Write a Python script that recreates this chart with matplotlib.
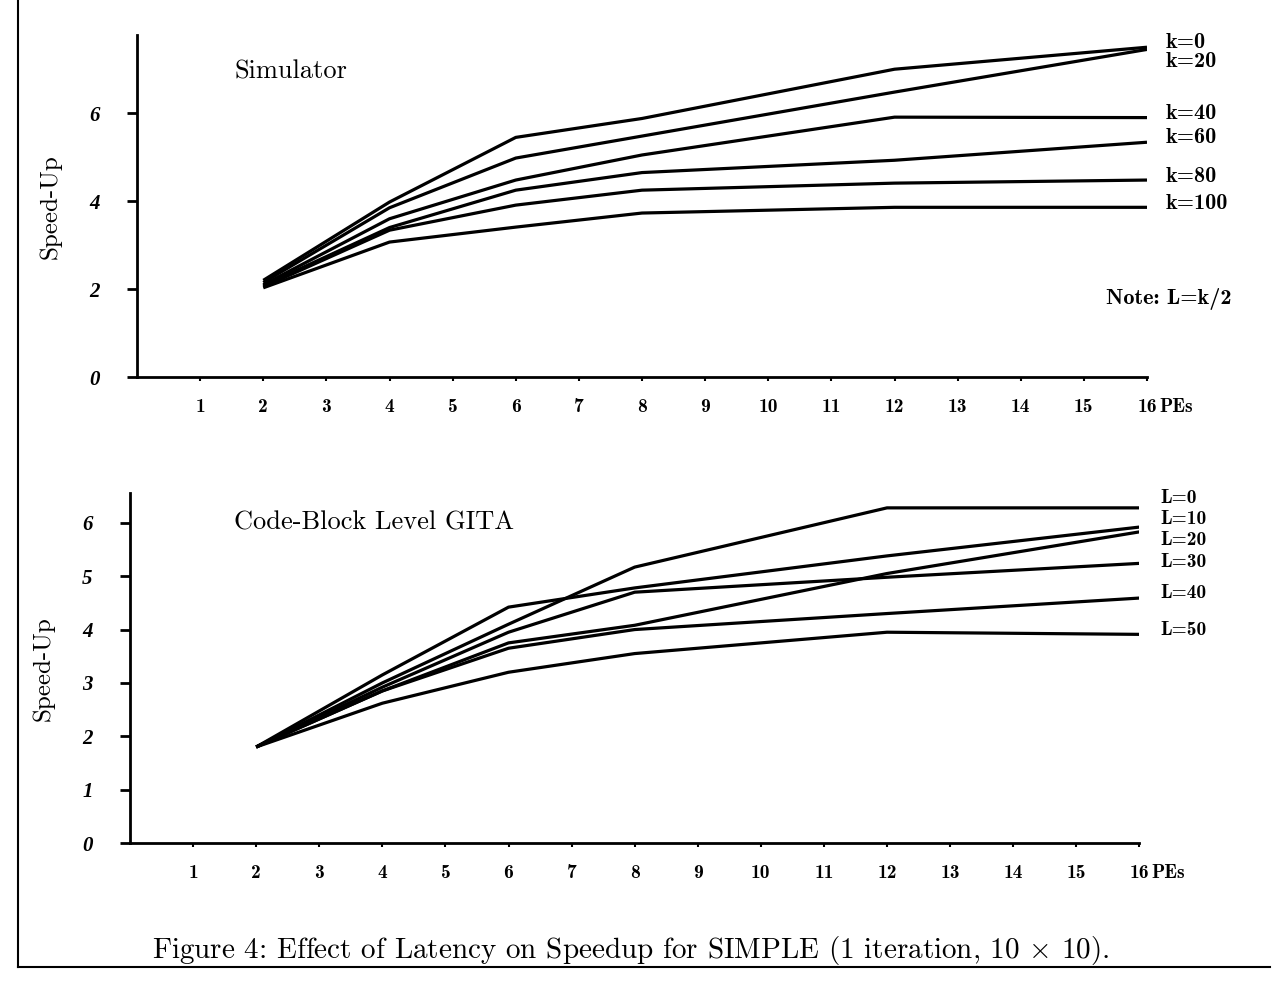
import matplotlib.pyplot as plt
from matplotlib.lines import Line2D

plt.rcParams['mathtext.fontset'] = 'cm'

# PEs at which speed-up was measured
pes = [2, 4, 6, 8, 12, 16]

# Simulator (top panel), one list per latency k
sim_k0 = [2.20, 3.98, 5.45, 5.88, 7.00, 7.50]
sim_k20 = [2.15, 3.85, 4.98, 5.48, 6.48, 7.45]
sim_k40 = [2.10, 3.60, 4.48, 5.05, 5.91, 5.90]
sim_k60 = [2.08, 3.40, 4.25, 4.65, 4.93, 5.34]
sim_k80 = [2.05, 3.34, 3.91, 4.25, 4.41, 4.48]
sim_k100 = [2.03, 3.07, 3.41, 3.73, 3.86, 3.86]
sim_names = ["k=0", "k=20", "k=40", "k=60", "k=80", "k=100"]
sim_label_y = [7.61, 7.18, 6.00, 5.45, 4.57, 3.95]

# Code-Block Level GITA (bottom panel), one list per latency L
gita_l0 = [1.80, 3.00, 4.10, 5.17, 6.28, 6.28]
gita_l10 = [1.80, 3.15, 4.42, 4.78, 5.38, 5.92]
gita_l20 = [1.80, 2.85, 3.75, 4.08, 5.05, 5.83]
gita_l30 = [1.80, 2.92, 3.95, 4.70, 4.98, 5.24]
gita_l40 = [1.80, 2.85, 3.65, 4.00, 4.30, 4.59]
gita_l50 = [1.80, 2.62, 3.20, 3.55, 3.95, 3.91]
gita_names = ["L=0", "L=10", "L=20", "L=30", "L=40", "L=50"]
gita_label_y = [6.46, 6.07, 5.68, 5.27, 4.68, 3.99]

x_ticks = list(range(1, 17))
x_ticklabels = [str(i) for i in range(1, 17)]

fig = plt.figure(figsize=(12.76, 9.82), dpi=100)
ax1 = fig.add_axes([0.1074, 0.616, 0.7915, 0.348])
ax2 = fig.add_axes([0.1019, 0.1415, 0.791, 0.356])


def style_axes(ax, ymax, yticks):
    ax.set_xlim(0, 16)
    ax.set_ylim(0, ymax)
    for s in ['top', 'right']:
        ax.spines[s].set_visible(False)
    for s in ['left', 'bottom']:
        ax.spines[s].set_linewidth(2.0)
    ax.set_yticks(yticks)
    ax.set_yticklabels([str(v) for v in yticks], family='Liberation Serif',
                       style='italic', weight='bold', fontsize=15)
    ax.tick_params(axis='y', direction='out', length=7, width=2.0, pad=20)
    ax.set_xticks(x_ticks)
    ax.set_xticklabels(x_ticklabels, family='cmb10', fontsize=14)
    ax.tick_params(axis='x', direction='out', length=3, width=1.5, pad=12)
    ax.annotate("PEs", xy=(16, 0), xycoords='data', xytext=(9, -15),
                textcoords='offset points', family='cmb10', fontsize=14,
                ha='left', va='top', annotation_clip=False)
    ax.set_ylabel("Speed-Up", family='cmr10', fontsize=18, labelpad=20)


# top panel
style_axes(ax1, 7.77, [0, 2, 4, 6])
sim_series = [sim_k0, sim_k20, sim_k40, sim_k60, sim_k80, sim_k100]
for vals in sim_series:
    ax1.plot(pes, vals, color='black', lw=2.3, solid_capstyle='butt')
for name, ly in zip(sim_names, sim_label_y):
    ax1.text(16.3, ly, name, family='cmb10', fontsize=16, va='center', ha='left')
ax1.text(1.55, 6.95, "Simulator", family='cmr10', fontsize=19, va='center')
ax1.text(15.35, 1.77, "Note: L=k/2", family='cmb10', fontsize=16, va='center')

# bottom panel
style_axes(ax2, 6.55, [0, 1, 2, 3, 4, 5, 6])
gita_series = [gita_l0, gita_l10, gita_l20, gita_l30, gita_l40, gita_l50]
for vals in gita_series:
    ax2.plot(pes, vals, color='black', lw=2.3, solid_capstyle='butt')
for name, ly in zip(gita_names, gita_label_y):
    ax2.text(16.33, ly, name, family='cmb10', fontsize=14, va='center', ha='left')
ax2.text(1.65, 6.0, "Code-Block Level GITA", family='cmr10', fontsize=19, va='center')

# caption and frame
fig.text(0.494, 0.032, "Figure 4: Effect of Latency on Speedup for SIMPLE (1 iteration, 10 $\\times$ 10).",
         family='cmr10', fontsize=21, ha='center', va='center')
fig.add_artist(Line2D([0.014, 0.014], [0.015, 1.0], color='black', lw=1.5))
fig.add_artist(Line2D([0.014, 0.995], [0.015, 0.015], color='black', lw=1.5))

fig.savefig("out.png", dpi=100)
